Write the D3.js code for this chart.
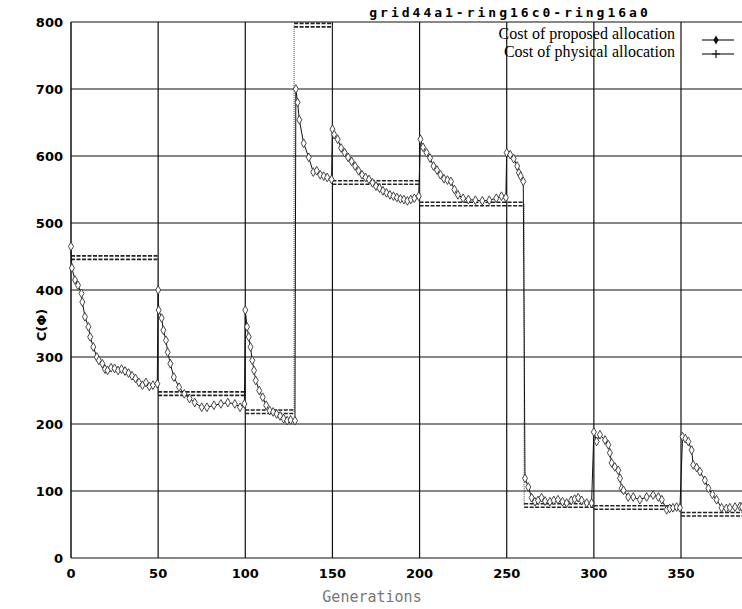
<!DOCTYPE html>
<html>
<head>
<meta charset="utf-8">
<script src="https://cdn.jsdelivr.net/npm/d3@7/dist/d3.min.js"></script>
<style>
  body { margin: 0; background: #fff; }
  svg { display: block; }
</style>
</head>
<body>
<div class="svg-container"></div>
<script>
(function () {

	"use strict";

	// ticks
	var xTicks = [0, 50, 100, 150, 200, 250, 300, 350];
	var yTicks = [0, 100, 200, 300, 400, 500, 600, 700, 800];

	// cost of physical allocation: constant between start generations
	var physStart = [0, 50, 100, 128, 150, 200, 260, 300, 350];
	var physValue = [448, 245, 218, 795, 560, 528, 78, 75, 65];

	// cost of proposed allocation
	var propGen = [
		0, 0.5, 2.3, 4, 6, 6.5, 8, 10, 11, 12.8, 14.8, 16, 18, 19.5, 21, 23, 25, 27, 29, 31, 33, 35, 37, 39, 41, 43, 45, 47, 49.5,
		50, 50.3, 52, 53, 54.5, 55.5, 57, 59, 62, 65, 68, 71, 75, 78, 82, 86, 90, 94, 97, 99.5,
		100, 101, 102, 103, 104, 105, 106, 108, 110, 112, 114, 116, 118, 120, 122, 124, 126, 128.5,
		129, 130, 131, 133.5, 136.4, 139, 141, 143, 145, 147, 149.5,
		150, 151, 153, 155, 157, 159, 161, 163, 165, 167, 169, 171, 173, 175, 177, 179, 181, 183, 185, 187, 189, 191, 193, 195, 197, 199.5,
		200.5, 202, 204, 206, 208, 210, 212, 214, 216, 218, 220, 222, 225, 228, 232, 236, 240, 244, 247, 249.5,
		250, 252, 254, 256, 257, 258, 259.5,
		260.5, 262.4, 264.3, 266.2, 268, 270, 272, 274.8, 277, 279.4, 282, 284.4, 287, 289, 291, 293, 295.9, 298.7,
		300, 301.6, 303.5, 306.4, 308.3, 309.2, 310.2, 312, 314, 315, 316, 317, 319.7, 322.6, 326.4, 330.3, 334, 337, 339, 341.8, 343.5, 345.4, 347.5, 349.4,
		350.9, 352.5, 354.2, 356.1, 357, 359, 360.9, 363.7, 365.7, 368, 370.4, 373.3, 376, 378, 381, 383.8, 385
	];
	var propValue = [
		465, 433, 415, 407, 395, 382, 360, 345, 330, 315, 300, 295, 290, 282, 280, 284, 283, 280, 282, 279, 276, 272, 268, 262, 258, 262, 256, 258, 260,
		400, 370, 358, 340, 325, 307, 290, 270, 255, 245, 238, 232, 225, 225, 228, 230, 232, 230, 225, 230,
		370, 345, 330, 315, 295, 280, 265, 250, 240, 228, 220, 218, 215, 212, 208, 205, 206, 205,
		700, 680, 654, 619, 598, 576, 578, 572, 570, 568, 565,
		640, 632, 625, 612, 605, 598, 592, 585, 578, 572, 568, 565, 560, 555, 552, 548, 545, 542, 540, 538, 536, 535, 533, 535, 537, 540,
		625, 613, 605, 597, 585, 579, 572, 566, 564, 562, 550, 542, 537, 535, 534, 533, 534, 537, 540, 538,
		605, 602, 596, 585, 575, 570, 562,
		119, 106, 90, 84, 86, 90, 85, 84, 86, 87, 84, 82, 86, 88, 90, 86, 82, 82,
		188, 174, 184, 176, 169, 157, 142, 136, 131, 119, 104, 101, 91, 91, 87, 91, 94, 91, 87, 72, 74, 75, 76, 75,
		181, 178, 174, 161, 139, 135, 129, 116, 104, 95, 87, 75, 74, 75, 76, 77, 76
	];

	var width = 742, height = 609;

	var svg = d3.select(".svg-container").append("svg")
		.attr("width", width)
		.attr("height", height);

	var x = d3.scaleLinear().domain([0, 385]).range([71, 742]);
	var y = d3.scaleLinear().domain([0, 800]).range([558, 22]);

	// grid
	svg.append("g").selectAll("line")
		.data(xTicks.slice(1))
		.enter().append("line")
		.attr("x1", function (d) { return x(d); })
		.attr("x2", function (d) { return x(d); })
		.attr("y1", y(800)).attr("y2", y(0))
		.attr("stroke", "#111").attr("stroke-width", 1.2);

	svg.append("g").selectAll("line")
		.data(yTicks)
		.enter().append("line")
		.attr("x1", x(0)).attr("x2", width)
		.attr("y1", function (d) { return y(d); })
		.attr("y2", function (d) { return y(d); })
		.attr("stroke", "#111").attr("stroke-width", 1.2);

	svg.append("line")
		.attr("x1", x(0)).attr("x2", x(0))
		.attr("y1", y(800)).attr("y2", y(0))
		.attr("stroke", "#111").attr("stroke-width", 1.5);

	// tick labels
	svg.append("g").selectAll("text")
		.data(xTicks)
		.enter().append("text")
		.attr("x", function (d) { return x(d); })
		.attr("y", 578)
		.attr("text-anchor", "middle")
		.attr("font-family", "DejaVu Sans")
		.attr("font-weight", "bold")
		.attr("font-size", 13)
		.text(function (d) { return d; });

	svg.append("g").selectAll("text")
		.data(yTicks)
		.enter().append("text")
		.attr("x", 63)
		.attr("y", function (d) { return y(d) + 5; })
		.attr("text-anchor", "end")
		.attr("font-family", "DejaVu Sans")
		.attr("font-weight", "bold")
		.attr("font-size", 13)
		.text(function (d) { return d; });

	// axis titles
	svg.append("text")
		.attr("transform", "translate(46,325) rotate(-90)")
		.attr("text-anchor", "middle")
		.attr("font-family", "DejaVu Sans")
		.attr("font-weight", "bold")
		.attr("font-size", 13)
		.text("C(\u03A6)");

	svg.append("text")
		.attr("x", 372).attr("y", 602)
		.attr("text-anchor", "middle")
		.attr("font-family", "DejaVu Sans Mono")
		.attr("font-size", 15)
		.attr("fill", "#777")
		.text("Generations");

	svg.append("text")
		.attr("x", 510).attr("y", 17)
		.attr("text-anchor", "middle")
		.attr("font-family", "DejaVu Sans Mono")
		.attr("font-weight", "bold")
		.attr("font-size", 13)
		.attr("letter-spacing", 3)
		.text("grid44a1-ring16c0-ring16a0");

	// physical allocation: step segments drawn as doubled dashes
	var segs = physStart.map(function (s, i) {
		return { x0: s, x1: i + 1 < physStart.length ? physStart[i + 1] : 385, v: physValue[i] };
	});

	var phys = svg.append("g");
	[-2, 1.5].forEach(function (off) {
		phys.selectAll(null)
			.data(segs)
			.enter().append("line")
			.attr("x1", function (d) { return x(d.x0); })
			.attr("x2", function (d) { return x(d.x1); })
			.attr("y1", function (d) { return y(d.v) + off; })
			.attr("y2", function (d) { return y(d.v) + off; })
			.attr("stroke", "#222")
			.attr("stroke-width", 1.6)
			.attr("stroke-dasharray", "4,1.5");
	});
	phys.selectAll(null)
		.data(segs.slice(1))
		.enter().append("line")
		.attr("x1", function (d) { return x(d.x0); })
		.attr("x2", function (d) { return x(d.x0); })
		.attr("y1", function (d, i) { return y(segs[i].v); })
		.attr("y2", function (d) { return y(d.v); })
		.attr("stroke", "#444")
		.attr("stroke-width", 1)
		.attr("stroke-dasharray", "1,1");

	// proposed allocation
	var pts = propGen.map(function (g, i) { return [g, propValue[i]]; });

	svg.append("path")
		.datum(pts)
		.attr("fill", "none")
		.attr("stroke", "#111")
		.attr("stroke-width", 1)
		.attr("d", d3.line()
			.x(function (d) { return x(d[0]); })
			.y(function (d) { return y(d[1]); }));

	var diamond = d3.symbol().type(d3.symbolDiamond).size(22);
	svg.append("g").selectAll("path")
		.data(pts)
		.enter().append("path")
		.attr("d", diamond)
		.attr("transform", function (d) { return "translate(" + x(d[0]) + "," + y(d[1]) + ")"; })
		.attr("fill", "#fff")
		.attr("stroke", "#333")
		.attr("stroke-width", 0.9);

	// legend
	var legend = svg.append("g");
	var labels = ["Cost of proposed allocation", "Cost of physical allocation"];
	legend.selectAll("text")
		.data(labels)
		.enter().append("text")
		.attr("x", 675)
		.attr("y", function (d, i) { return 39 + i * 18; })
		.attr("text-anchor", "end")
		.attr("font-family", "Liberation Serif")
		.attr("font-size", 16)
		.text(function (d) { return d; });

	legend.selectAll("line")
		.data(labels)
		.enter().append("line")
		.attr("x1", 702).attr("x2", 734)
		.attr("y1", function (d, i) { return 40 + i * 14; })
		.attr("y2", function (d, i) { return 40 + i * 14; })
		.attr("stroke", "#222").attr("stroke-width", 1.2);

	legend.append("path")
		.attr("d", d3.symbol().type(d3.symbolDiamond).size(24))
		.attr("transform", "translate(716,40)")
		.attr("fill", "#111");
	legend.append("path")
		.attr("d", "M712,54H720M716,50V58")
		.attr("stroke", "#111").attr("stroke-width", 1.2);

})();
</script>
</body>
</html>
